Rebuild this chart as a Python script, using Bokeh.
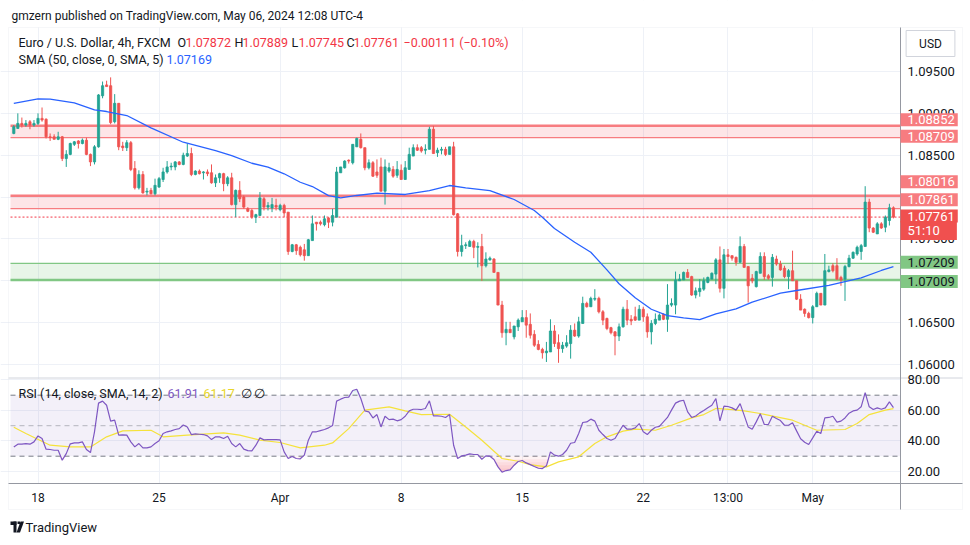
import numpy as np
from bokeh.plotting import figure
from bokeh.models import (Range1d, FixedTicker, BoxAnnotation, Label, LinearAxis, Grid,
                          PolyAnnotation, ColumnDataSource)
from bokeh.embed import file_html
from bokeh.resources import INLINE

FONT = "Roboto"

# ---------------- data (EUR/USD 4h, FXCM) ----------------
open_ = [
    1.0876, 1.0882, 1.0888, 1.0886, 1.0890, 1.0886, 1.0888, 1.0894, 1.0893, 1.0872,
    1.0872, 1.0869, 1.0872, 1.0846, 1.0851, 1.0863, 1.0867, 1.0864, 1.0868, 1.0851,
    1.0842, 1.0860, 1.0921, 1.0934, 1.0933, 1.0890, 1.0912, 1.0861, 1.0859, 1.0865,
    1.0834, 1.0811, 1.0827, 1.0806, 1.0808, 1.0804, 1.0812, 1.0821, 1.0830, 1.0836,
    1.0836, 1.0842, 1.0839, 1.0849, 1.0852, 1.0827, 1.0831, 1.0829, 1.0830, 1.0829,
    1.0817, 1.0823, 1.0828, 1.0816, 1.0823, 1.0791, 1.0808, 1.0800, 1.0786, 1.0784,
    1.0776, 1.0778, 1.0798, 1.0788, 1.0787, 1.0790, 1.0785, 1.0790, 1.0782, 1.0735,
    1.0743, 1.0740, 1.0737, 1.0730, 1.0748, 1.0770, 1.0770, 1.0767, 1.0775, 1.0770,
    1.0776, 1.0829, 1.0835, 1.0844, 1.0841, 1.0860, 1.0869, 1.0859, 1.0835, 1.0841,
    1.0830, 1.0836, 1.0807, 1.0831, 1.0833, 1.0826, 1.0832, 1.0821, 1.0833, 1.0849,
    1.0859, 1.0859, 1.0856, 1.0857, 1.0881, 1.0853, 1.0856, 1.0857, 1.0851, 1.0860,
    1.0780, 1.0735, 1.0742, 1.0741, 1.0747, 1.0740, 1.0741, 1.0718, 1.0725, 1.0726,
    1.0710, 1.0671, 1.0638, 1.0642, 1.0633, 1.0645, 1.0651, 1.0656, 1.0648, 1.0636,
    1.0624, 1.0618, 1.0614, 1.0615, 1.0640, 1.0626, 1.0619, 1.0622, 1.0625, 1.0641,
    1.0634, 1.0649, 1.0673, 1.0669, 1.0678, 1.0679, 1.0663, 1.0655, 1.0644, 1.0639,
    1.0634, 1.0645, 1.0666, 1.0654, 1.0657, 1.0653, 1.0666, 1.0657, 1.0639, 1.0649,
    1.0653, 1.0660, 1.0654, 1.0671, 1.0671, 1.0700, 1.0701, 1.0710, 1.0705, 1.0683,
    1.0687, 1.0690, 1.0698, 1.0702, 1.0708, 1.0725, 1.0691, 1.0731, 1.0730, 1.0728,
    1.0722, 1.0741, 1.0717, 1.0703, 1.0693, 1.0709, 1.0729, 1.0706, 1.0704, 1.0726,
    1.0720, 1.0715, 1.0705, 1.0712, 1.0700, 1.0678, 1.0666, 1.0661, 1.0656, 1.0669,
    1.0685, 1.0671, 1.0711, 1.0718, 1.0718, 1.0704, 1.0702, 1.0717, 1.0727, 1.0732,
    1.0735, 1.0741, 1.0794, 1.0763, 1.0756, 1.0768, 1.0764, 1.0772, 1.07872]

high = [
    1.0886, 1.0900, 1.0895, 1.0892, 1.0892, 1.0892, 1.0900, 1.0907, 1.0894, 1.0876,
    1.0875, 1.0878, 1.0873, 1.0856, 1.0865, 1.0867, 1.0868, 1.0870, 1.0871, 1.0852,
    1.0862, 1.0923, 1.0938, 1.0939, 1.0943, 1.0923, 1.0912, 1.0866, 1.0868, 1.0867,
    1.0843, 1.0832, 1.0831, 1.0811, 1.0811, 1.0822, 1.0824, 1.0835, 1.0843, 1.0841,
    1.0843, 1.0843, 1.0853, 1.0864, 1.0859, 1.0832, 1.0833, 1.0831, 1.0833, 1.0839,
    1.0827, 1.0829, 1.0829, 1.0825, 1.0829, 1.0809, 1.0819, 1.0802, 1.0788, 1.0786,
    1.0780, 1.0806, 1.0800, 1.0794, 1.0799, 1.0798, 1.0792, 1.0792, 1.0782, 1.0744,
    1.0744, 1.0742, 1.0744, 1.0750, 1.0778, 1.0770, 1.0772, 1.0778, 1.0776, 1.0786,
    1.0836, 1.0836, 1.0844, 1.0845, 1.0863, 1.0871, 1.0876, 1.0859, 1.0845, 1.0843,
    1.0845, 1.0847, 1.0845, 1.0841, 1.0837, 1.0843, 1.0839, 1.0843, 1.0859, 1.0863,
    1.0863, 1.0861, 1.0863, 1.0884, 1.0885, 1.0859, 1.0860, 1.0860, 1.0860, 1.0866,
    1.0781, 1.0755, 1.0746, 1.0749, 1.0749, 1.0746, 1.0756, 1.0734, 1.0729, 1.0727,
    1.0710, 1.0676, 1.0651, 1.0651, 1.0646, 1.0655, 1.0665, 1.0665, 1.0661, 1.0641,
    1.0629, 1.0620, 1.0627, 1.0654, 1.0647, 1.0636, 1.0627, 1.0635, 1.0647, 1.0649,
    1.0657, 1.0681, 1.0675, 1.0681, 1.0690, 1.0681, 1.0665, 1.0656, 1.0645, 1.0640,
    1.0649, 1.0669, 1.0677, 1.0659, 1.0669, 1.0671, 1.0669, 1.0661, 1.0653, 1.0661,
    1.0661, 1.0661, 1.0696, 1.0679, 1.0711, 1.0708, 1.0711, 1.0714, 1.0706, 1.0692,
    1.0702, 1.0704, 1.0705, 1.0710, 1.0727, 1.0741, 1.0738, 1.0738, 1.0730, 1.0729,
    1.0753, 1.0744, 1.0717, 1.0708, 1.0712, 1.0734, 1.0734, 1.0708, 1.0732, 1.0730,
    1.0724, 1.0718, 1.0714, 1.0736, 1.0700, 1.0684, 1.0667, 1.0663, 1.0671, 1.0687,
    1.0685, 1.0732, 1.0718, 1.0721, 1.0727, 1.0706, 1.0719, 1.0731, 1.0735, 1.0742,
    1.0744, 1.0813, 1.0798, 1.0764, 1.0770, 1.0770, 1.0778, 1.0792, 1.07889]

low = [
    1.0875, 1.0882, 1.0883, 1.0884, 1.0881, 1.0884, 1.0886, 1.0890, 1.0870, 1.0867,
    1.0869, 1.0868, 1.0843, 1.0836, 1.0850, 1.0861, 1.0858, 1.0863, 1.0850, 1.0837,
    1.0839, 1.0859, 1.0918, 1.0932, 1.0887, 1.0888, 1.0856, 1.0855, 1.0855, 1.0831,
    1.0809, 1.0809, 1.0804, 1.0802, 1.0803, 1.0802, 1.0811, 1.0818, 1.0828, 1.0832,
    1.0832, 1.0838, 1.0838, 1.0848, 1.0825, 1.0826, 1.0827, 1.0821, 1.0825, 1.0816,
    1.0812, 1.0817, 1.0807, 1.0813, 1.0790, 1.0776, 1.0794, 1.0786, 1.0782, 1.0774,
    1.0769, 1.0778, 1.0784, 1.0784, 1.0782, 1.0784, 1.0783, 1.0776, 1.0731, 1.0734,
    1.0731, 1.0729, 1.0724, 1.0730, 1.0748, 1.0760, 1.0766, 1.0765, 1.0763, 1.0765,
    1.0776, 1.0829, 1.0834, 1.0840, 1.0839, 1.0860, 1.0858, 1.0832, 1.0833, 1.0824,
    1.0823, 1.0807, 1.0791, 1.0829, 1.0823, 1.0823, 1.0821, 1.0821, 1.0833, 1.0849,
    1.0855, 1.0853, 1.0851, 1.0857, 1.0852, 1.0848, 1.0851, 1.0849, 1.0851, 1.0778,
    1.0729, 1.0729, 1.0738, 1.0741, 1.0727, 1.0716, 1.0700, 1.0716, 1.0724, 1.0710,
    1.0671, 1.0632, 1.0623, 1.0638, 1.0630, 1.0640, 1.0651, 1.0632, 1.0631, 1.0621,
    1.0617, 1.0607, 1.0603, 1.0615, 1.0621, 1.0602, 1.0614, 1.0620, 1.0607, 1.0633,
    1.0632, 1.0649, 1.0668, 1.0669, 1.0676, 1.0661, 1.0647, 1.0641, 1.0636, 1.0611,
    1.0628, 1.0644, 1.0647, 1.0647, 1.0652, 1.0653, 1.0651, 1.0632, 1.0624, 1.0647,
    1.0653, 1.0653, 1.0639, 1.0669, 1.0660, 1.0700, 1.0701, 1.0704, 1.0682, 1.0679,
    1.0681, 1.0688, 1.0697, 1.0702, 1.0696, 1.0686, 1.0679, 1.0720, 1.0724, 1.0718,
    1.0722, 1.0716, 1.0674, 1.0697, 1.0692, 1.0709, 1.0701, 1.0701, 1.0693, 1.0718,
    1.0712, 1.0703, 1.0690, 1.0700, 1.0677, 1.0665, 1.0657, 1.0655, 1.0649, 1.0669,
    1.0671, 1.0671, 1.0710, 1.0710, 1.0701, 1.0694, 1.0676, 1.0716, 1.0726, 1.0730,
    1.0725, 1.0741, 1.0758, 1.0757, 1.0756, 1.0762, 1.0758, 1.0766, 1.07745]

close = [
    1.0884, 1.0888, 1.0886, 1.0888, 1.0886, 1.0888, 1.0894, 1.0892, 1.0872, 1.0871,
    1.0869, 1.0872, 1.0846, 1.0851, 1.0864, 1.0866, 1.0864, 1.0868, 1.0851, 1.0842,
    1.0860, 1.0922, 1.0933, 1.0932, 1.0889, 1.0912, 1.0860, 1.0859, 1.0865, 1.0833,
    1.0811, 1.0827, 1.0805, 1.0807, 1.0804, 1.0814, 1.0822, 1.0830, 1.0836, 1.0837,
    1.0842, 1.0839, 1.0850, 1.0852, 1.0827, 1.0831, 1.0828, 1.0830, 1.0828, 1.0817,
    1.0823, 1.0828, 1.0816, 1.0823, 1.0791, 1.0808, 1.0798, 1.0788, 1.0783, 1.0776,
    1.0779, 1.0799, 1.0788, 1.0790, 1.0791, 1.0788, 1.0790, 1.0781, 1.0735, 1.0743,
    1.0736, 1.0731, 1.0730, 1.0749, 1.0768, 1.0768, 1.0768, 1.0774, 1.0770, 1.0778,
    1.0830, 1.0836, 1.0843, 1.0843, 1.0863, 1.0870, 1.0859, 1.0835, 1.0841, 1.0825,
    1.0826, 1.0807, 1.0836, 1.0835, 1.0825, 1.0833, 1.0821, 1.0835, 1.0851, 1.0859,
    1.0856, 1.0855, 1.0857, 1.0881, 1.0852, 1.0856, 1.0857, 1.0851, 1.0860, 1.0779,
    1.0735, 1.0742, 1.0743, 1.0747, 1.0740, 1.0741, 1.0718, 1.0726, 1.0727, 1.0710,
    1.0671, 1.0638, 1.0642, 1.0638, 1.0646, 1.0653, 1.0656, 1.0647, 1.0635, 1.0623,
    1.0618, 1.0614, 1.0616, 1.0640, 1.0625, 1.0619, 1.0623, 1.0626, 1.0641, 1.0634,
    1.0651, 1.0673, 1.0669, 1.0679, 1.0679, 1.0663, 1.0653, 1.0643, 1.0638, 1.0634,
    1.0645, 1.0666, 1.0653, 1.0652, 1.0653, 1.0666, 1.0657, 1.0639, 1.0649, 1.0654,
    1.0659, 1.0654, 1.0671, 1.0673, 1.0701, 1.0702, 1.0710, 1.0704, 1.0683, 1.0688,
    1.0691, 1.0700, 1.0704, 1.0709, 1.0725, 1.0691, 1.0731, 1.0729, 1.0727, 1.0722,
    1.0741, 1.0716, 1.0694, 1.0700, 1.0711, 1.0729, 1.0705, 1.0703, 1.0728, 1.0720,
    1.0713, 1.0705, 1.0712, 1.0700, 1.0678, 1.0665, 1.0661, 1.0656, 1.0669, 1.0685,
    1.0671, 1.0712, 1.0713, 1.0712, 1.0702, 1.0701, 1.0717, 1.0727, 1.0734, 1.0740,
    1.0742, 1.0794, 1.0763, 1.0758, 1.0768, 1.0763, 1.0776, 1.07872, 1.07761]

# SMA(50) at these bar indices
sma_idx = [0, 6, 9, 15, 20, 23, 28, 34, 42, 50, 54, 59, 63, 67, 71, 74, 78, 81, 85,
           90, 97, 103, 108, 112, 118, 124, 129, 131, 134, 139, 143, 147, 150, 154,
           158, 162, 166, 170, 174, 179, 183, 190, 194, 202, 210, 215, 218]
sma_vals = [1.0912, 1.09174, 1.09169, 1.09126, 1.09042, 1.09022, 1.08974, 1.08827,
            1.08655, 1.08556, 1.08496, 1.08404, 1.08357, 1.08278, 1.08177, 1.08126,
            1.08018, 1.07991, 1.08019, 1.08046, 1.08031, 1.08078, 1.08138, 1.08111,
            1.08078, 1.07971, 1.07839, 1.07759, 1.07625, 1.07461, 1.07341, 1.07131,
            1.06964, 1.06797, 1.06660, 1.06585, 1.06558, 1.06537, 1.06606, 1.06665,
            1.06744, 1.06852, 1.06884, 1.06944, 1.07036, 1.07123, 1.07169]

rsi = [
    36.1, 37.9, 37.9, 38.3, 37.9, 39.4, 43.3, 41.6, 34.6, 34.4,
    33.9, 33.9, 27.4, 31.7, 38.1, 38.7, 38.7, 39.4, 34.4, 32.4,
    46.0, 64.8, 66.1, 63.4, 53.0, 53.6, 43.8, 44.0, 43.8, 39.4,
    36.1, 38.3, 35.5, 35.5, 36.1, 38.3, 40.1, 44.9, 46.0, 46.6,
    47.5, 48.1, 50.5, 49.2, 44.2, 44.6, 44.4, 44.2, 43.3, 40.9,
    42.7, 42.7, 41.6, 43.1, 38.3, 36.1, 38.3, 34.6, 33.7, 33.5,
    37.2, 42.0, 40.7, 40.9, 40.9, 40.9, 40.7, 32.8, 28.5, 29.8,
    28.5, 28.3, 30.7, 40.5, 46.0, 46.0, 46.8, 47.5, 48.6, 50.1,
    66.1, 67.4, 68.5, 68.7, 73.1, 73.9, 67.8, 59.7, 59.1, 55.1,
    57.3, 49.2, 56.2, 54.0, 54.3, 53.2, 54.0, 56.2, 59.7, 60.8,
    60.8, 60.6, 61.3, 66.3, 56.4, 56.4, 56.2, 55.4, 57.3, 37.2,
    28.5, 30.2, 30.7, 31.5, 31.1, 31.1, 28.0, 30.2, 30.0, 27.8,
    23.0, 19.5, 20.6, 21.0, 24.1, 26.5, 27.2, 25.6, 24.5, 23.2,
    22.1, 21.9, 23.7, 32.8, 30.7, 30.0, 31.1, 33.9, 38.5, 39.0,
    44.9, 52.1, 52.5, 54.3, 53.0, 47.0, 44.2, 41.6, 40.5, 41.6,
    46.0, 50.3, 47.7, 47.7, 48.6, 51.4, 46.0, 44.2, 47.0, 49.0,
    49.5, 52.5, 55.4, 60.2, 64.8, 66.1, 66.7, 59.1, 55.4, 56.4,
    58.4, 59.9, 61.7, 63.4, 67.8, 53.2, 62.8, 62.6, 61.7, 60.2,
    64.5, 56.9, 49.2, 47.7, 52.5, 57.8, 50.8, 50.8, 56.2, 54.7,
    53.4, 50.3, 50.3, 51.9, 46.6, 41.4, 39.2, 37.7, 42.0, 46.4,
    44.9, 55.1, 55.4, 56.2, 52.3, 53.0, 55.1, 58.2, 59.7, 60.2,
    62.4, 71.7, 62.4, 60.6, 61.7, 60.8, 61.7, 65.6, 61.91]

rsi_ma_idx = [0, 3, 9, 14, 19, 23, 27, 34, 37, 43, 52, 56, 61, 66, 71, 77, 79, 83,
              87, 93, 97, 101, 108, 112, 116, 121, 125, 128, 132, 135, 140, 144,
              147, 151, 154, 159, 163, 168, 171, 174, 178, 181, 185, 189, 193, 196,
              199, 206, 209, 212, 216, 218]
rsi_ma_vals = [49.0, 44.9, 37.2, 36.1, 36.1, 42.7, 46.6, 47.0, 42.7, 43.8, 45.3,
               43.8, 40.5, 39.0, 35.5, 37.2, 38.7, 48.1, 60.2, 62.3, 59.7, 57.3,
               57.5, 49.2, 40.5, 28.5, 26.7, 24.5, 23.0, 26.3, 29.6, 38.3, 42.7,
               46.4, 47.7, 47.0, 50.3, 55.1, 57.3, 61.3, 60.6, 59.7, 58.0, 55.8,
               53.6, 50.3, 47.0, 47.5, 51.4, 57.3, 60.2, 61.17]

tick_idx = [6, 36, 66, 96, 126, 156, 177, 198]
tick_labels = ["18", "25", "Apr", "8", "15", "22", "13:00", "May"]

price_ticks = [1.060, 1.065, 1.075, 1.085, 1.090, 1.095]
price_grid = [1.060, 1.065, 1.070, 1.075, 1.080, 1.085, 1.090, 1.095]
rsi_ticks = [20, 40, 60, 80]

zone_res_upper = (1.08709, 1.08852)
zone_res_lower = (1.07861, 1.08016)
zone_support = (1.07009, 1.07209)
last_close = close[-1]

# ---------------- layout (pixels of the page) ----------------
W, H = 968, 544
PX_PER_BAR, BAR0_PX = 4.035, 13.3           # bar spacing, page x of first bar
PX_PER_PRICE, P_REF, P_REF_PX = 8371.4, 1.095, 71.0
PX_PER_RSI, R_REF, R_REF_PX = 1.525, 70.0, 394.7

X0 = -BAR0_PX / PX_PER_BAR
X1 = (W - BAR0_PX) / PX_PER_BAR
P1 = P_REF + P_REF_PX / PX_PER_PRICE
P0 = P_REF - (H - P_REF_PX) / PX_PER_PRICE
R1 = R_REF + R_REF_PX / PX_PER_RSI
R0 = R_REF - (H - R_REF_PX) / PX_PER_RSI


def xd(px):   # page x -> bar coordinate
    return X0 + px / PX_PER_BAR


def pd(py):   # page y -> price coordinate
    return P1 - py / PX_PER_PRICE


def rd(py):   # page y -> rsi coordinate
    return R1 - py / PX_PER_RSI


CHART_L, CHART_R, CHART_T, CHART_B, SCALE_R, CARD_B = 10, 900, 27, 483, 962, 509
PANE_SPLIT = 377.5

p = figure(width=W, height=H, x_range=Range1d(X0, X1), y_range=Range1d(P0, P1),
           x_axis_type=None, y_axis_type=None,
           output_backend="svg", toolbar_location=None,
           min_border=0, min_border_left=0, min_border_right=0,
           min_border_top=0, min_border_bottom=0,
           background_fill_color="white", border_fill_color="white",
           outline_line_color=None)
p.extra_y_ranges = {"rsi": Range1d(R0, R1)}


def rsi_to_price(v):
    return P0 + (v - R0) * (P1 - P0) / (R1 - R0)


rsi_eq = [rsi_to_price(v) for v in rsi_ticks]

# grids
p.add_layout(Grid(dimension=0, ticker=FixedTicker(ticks=tick_idx),
                  grid_line_color="#eef1f7"))
p.add_layout(Grid(dimension=1, ticker=FixedTicker(ticks=price_grid + rsi_eq),
                  grid_line_color="#eef1f7"))

# white masks over header, time scale/footer and price scale
p.add_layout(BoxAnnotation(bottom=pd(CHART_T), fill_color="white", fill_alpha=1,
                           line_color=None, level="underlay"))
p.add_layout(BoxAnnotation(top=pd(CHART_B), fill_color="white", fill_alpha=1,
                           line_color=None, level="underlay"))
p.add_layout(BoxAnnotation(left=xd(CHART_R), fill_color="white", fill_alpha=1,
                           line_color=None, level="underlay"))
p.add_layout(BoxAnnotation(left=xd(8), right=xd(SCALE_R), top=pd(CHART_T),
                           bottom=pd(CARD_B), fill_color=None, line_color="#e0e3eb",
                           line_width=1, level="underlay"))

XL, XR = xd(CHART_L), xd(CHART_R)

# zones
for (lo, hi), fill, line, top_w, bot_w in [
        (zone_res_upper, "#f23645", "#f77c80", 2.5, 1.2),
        (zone_res_lower, "#f23645", "#f77c80", 2.5, 1.2),
        (zone_support, "#4caf50", "#81c784", 1.2, 2.5)]:
    p.add_layout(BoxAnnotation(left=XL, right=XR, bottom=lo, top=hi, fill_color=fill,
                               fill_alpha=0.13, line_color=None, level="underlay"))
    p.segment(x0=[XL], x1=[XR], y0=[hi], y1=[hi], line_color=line, line_width=top_w)
    p.segment(x0=[XL], x1=[XR], y0=[lo], y1=[lo], line_color=line, line_width=bot_w)

p.segment(x0=[XL], x1=[XR], y0=[last_close], y1=[last_close], line_color="#f23645",
          line_width=1, line_dash="2 2")

# RSI pane decorations
p.add_layout(BoxAnnotation(left=XL, right=XR, bottom=30, top=70, y_range_name="rsi",
                           fill_color="#7e57c2", fill_alpha=0.09, line_color=None,
                           level="underlay"))
for lvl, alpha in [(70, 1.0), (30, 1.0), (50, 0.5)]:
    p.segment(x0=[XL], x1=[XR], y0=[lvl], y1=[lvl], y_range_name="rsi",
              line_color="#787b86", line_alpha=alpha, line_width=1, line_dash="5 4")
p.segment(x0=[xd(8)], x1=[xd(SCALE_R)], y0=[rd(PANE_SPLIT)], y1=[rd(PANE_SPLIT)],
          y_range_name="rsi", line_color="#d1d4dc", line_width=1)

# candles
idx = np.arange(len(close))
o = np.array(open_); h = np.array(high); l = np.array(low); c = np.array(close)
UP, DOWN = "#22a393", "#ef5350"
colors = [UP if cc >= oo else DOWN for oo, cc in zip(o, c)]
src = ColumnDataSource(dict(x=idx, o=o, h=h, l=l, c=c,
                            top=np.maximum(o, c), bottom=np.minimum(o, c), color=colors))
p.segment(x0="x", y0="l", x1="x", y1="h", line_color="color", line_width=1, source=src)
p.vbar(x="x", width=0.55, top="top", bottom="bottom", fill_color="color",
       line_color="color", line_width=0.8, source=src)

# SMA 50
p.line(sma_idx, sma_vals, line_color="#2962ff", line_width=1.3)

# RSI fills (gradient-like) and lines
r = np.array(rsi)
for k in range(6):
    lvl_lo = 30 - 2 * k
    p.varea(x=idx, y1=np.minimum(r, lvl_lo), y2=lvl_lo, y_range_name="rsi",
            fill_color="#f23645", fill_alpha=0.06)
    lvl_hi = 70 + 2 * k
    p.varea(x=idx, y1=lvl_hi, y2=np.maximum(r, lvl_hi), y_range_name="rsi",
            fill_color="#089981", fill_alpha=0.06)
p.line(rsi_ma_idx, rsi_ma_vals, y_range_name="rsi", line_color="#f5e23b", line_width=1.2)
p.line(idx, rsi, y_range_name="rsi", line_color="#7e57c2", line_width=1.2)

# axes at fixed locations (price scale at the right edge of the chart, time scale below)
yax = LinearAxis(fixed_location=XR, bounds=(pd(CARD_B), pd(CHART_T)),
                 ticker=FixedTicker(ticks=price_ticks + rsi_eq))
ovr = {t: f"{t:.5f}" for t in price_ticks}
ovr.update({e: f"{v:.2f}" for e, v in zip(rsi_eq, rsi_ticks)})
yax.major_label_overrides = ovr
xax = LinearAxis(fixed_location=pd(CHART_B), bounds=(xd(8), xd(SCALE_R)),
                 ticker=FixedTicker(ticks=tick_idx))
xax.major_label_overrides = dict(zip(tick_idx, tick_labels))
for ax, fs in ((yax, "13px"), (xax, "12px")):
    ax.major_tick_line_color = None
    ax.minor_tick_line_color = None
    ax.major_tick_out = 0
    ax.major_tick_in = 0
    ax.minor_tick_out = 0
    ax.minor_tick_in = 0
    ax.axis_line_color = "#9598a1"
    ax.major_label_text_font = FONT
    ax.major_label_text_font_size = fs
    ax.major_label_text_color = "#131722"
    ax.major_label_standoff = 7
p.add_layout(yax, "right")
p.add_layout(xax, "below")


# ---------------- texts ----------------
def ctext(x, y, text, color="#131722", size="12.5px", align="left"):
    p.add_layout(Label(x=x, y=y, x_units="canvas", y_units="canvas", text=text,
                       text_color=color, text_font=FONT, text_font_size=size,
                       text_align=align, text_baseline="middle"))


ctext(11, 15, "gmzern published on TradingView.com, May 06, 2024 12:08 UTC-4", size="12px")

RED = "#f23645"
chg = close[-1] - close[-2]
pct = chg / close[-2] * 100
ctext(18, 42, "Euro / U.S. Dollar, 4h, FXCM", "#131722")
for lx, letter, vx, val in [(177, "O", 185, open_[-1]), (234, "H", 242, high[-1]),
                            (291, "L", 298, low[-1]), (346, "C", 353, close[-1])]:
    ctext(lx, 42, letter, "#131722")
    ctext(vx, 42, f"{val:.5f}", RED)
ctext(403, 42, f"{chg:+.5f} ({pct:+.2f}%)".replace("-", "\u2212"), RED)
ctext(18, 59, "SMA (50, close, 0, SMA, 5)", "#131722")
ctext(166, 59, f"{sma_vals[-1]:.5f}", "#2962ff")

ctext(18, 393, "RSI (14, close, SMA, 14, 2)", "#131722")
ctext(167, 393, f"{rsi[-1]:.2f}", "#7e57c2")
ctext(203, 393, f"{rsi_ma_vals[-1]:.2f}", "#e8d52a")
ctext(240, 393, "\u2205", "#131722")
ctext(253, 393, "\u2205", "#131722")

# USD box
p.add_layout(Label(x=930, y=43, x_units="canvas", y_units="canvas", text="USD",
                   text_color="#131722", text_font=FONT, text_font_size="12px",
                   text_align="center", text_baseline="middle",
                   background_fill_color="white", border_line_color="#d1d4dc",
                   padding=dict(left=13, right=13, top=6, bottom=6)))


# price tags on the scale
def tag(level, text, bg, fg, up_px, pad_r=3):
    p.add_layout(Label(x=XR, y=level + up_px / PX_PER_PRICE, x_offset=0, text=text,
                       text_color=fg, text_font=FONT, text_font_size="13px",
                       text_align="left", text_baseline="middle",
                       background_fill_color=bg,
                       padding=dict(left=7, right=pad_r, top=2, bottom=2)))


tag(zone_res_upper[1], f"{zone_res_upper[1]:.5f}", "#f77c80", "white", 6)
tag(zone_res_upper[0], f"{zone_res_upper[0]:.5f}", "#f77c80", "white", 1.5)
tag(zone_res_lower[1], f"{zone_res_lower[1]:.5f}", "#f77c80", "white", 14)
tag(zone_res_lower[0], f"{zone_res_lower[0]:.5f}", "#f77c80", "white", 9)
tag(last_close, "51:10", "#f0504f", "white", -13.5, pad_r=17)
tag(last_close, f"{last_close:.5f}", "#f0504f", "white", 1)
tag(zone_support[1], f"{zone_support[1]:.5f}", "#81c784", "#131722", 1)
tag(zone_support[0], f"{zone_support[0]:.5f}", "#81c784", "#131722", -1.5)

# TradingView footer logo
for xs, ys in [([10, 16, 16, 10], [521, 521, 524.5, 524.5]),
               ([13, 16, 16, 13], [521, 521, 532, 532]),
               ([17, 19.5, 19.5, 17], [521, 521, 523.5, 523.5]),
               ([20, 23.5, 19.5, 16], [521, 521, 532, 532])]:
    p.add_layout(PolyAnnotation(xs=xs, ys=ys, xs_units="canvas", ys_units="canvas",
                                fill_color="#131722", fill_alpha=1, line_color=None))
ctext(25, 527, "TradingView", "#131722", size="13px")

open("out.html", "w").write(file_html(p, INLINE))
